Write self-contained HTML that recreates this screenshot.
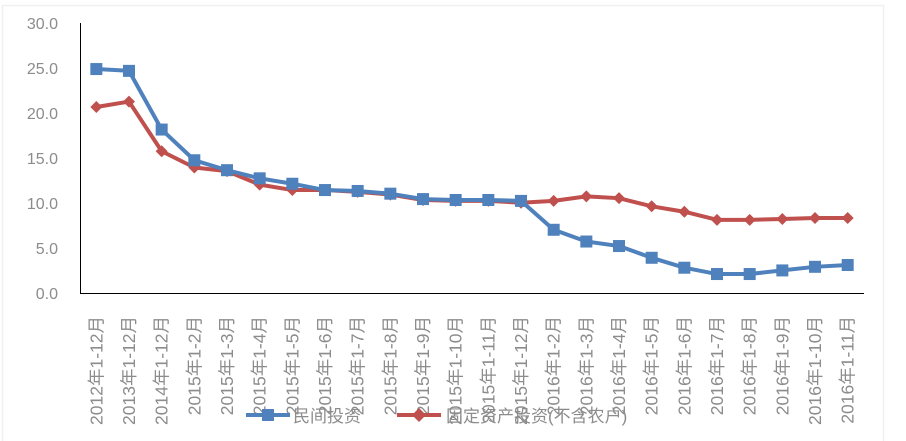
<!DOCTYPE html>
<html><head><meta charset="utf-8"><style>
html,body{margin:0;padding:0;background:#fff;}
svg{display:block;font-family:"Liberation Sans","Noto Sans CJK SC",sans-serif;}
</style></head><body>
<svg width="906" height="441" viewBox="0 0 906 441" xmlns="http://www.w3.org/2000/svg">
<rect x="2.5" y="5.5" width="881" height="440" fill="#fff" stroke="#f0f0f0" stroke-width="1.5"/>
<g font-size="16" fill="#8c8c8c" text-anchor="end">
<text x="58" y="29">30.0</text>
<text x="58" y="74">25.0</text>
<text x="58" y="119">20.0</text>
<text x="58" y="164">15.0</text>
<text x="58" y="209">10.0</text>
<text x="58" y="254">5.0</text>
<text x="58" y="299">0.0</text>
</g>
<line x1="80.5" y1="23" x2="80.5" y2="293" stroke="#000" stroke-width="1"/>
<line x1="80" y1="293.5" x2="864" y2="293.5" stroke="#000" stroke-width="1"/>
<g id="labels" font-size="17.5" fill="#8c8c8c" text-anchor="end"></g>
<polyline id="red" fill="none" stroke="#c0504d" stroke-width="4" stroke-linejoin="round"/>
<polyline id="blue" fill="none" stroke="#4f81bd" stroke-width="4" stroke-linejoin="round"/>
<g id="rm" fill="#c0504d"></g>
<g id="bm" fill="#4f81bd"></g>
<line x1="246" y1="415" x2="290" y2="415" stroke="#4f81bd" stroke-width="4"/>
<rect x="262" y="409" width="12" height="12" fill="#4f81bd"/>
<text x="293" y="422" font-size="17" fill="#8c8c8c">民间投资</text>
<line x1="397" y1="415" x2="441" y2="415" stroke="#c0504d" stroke-width="4"/>
<path d="M419 408 L426 415 L419 422 L412 415Z" fill="#c0504d"/>
<text x="446" y="422" font-size="17" fill="#8c8c8c">固定资产投资(不含农户)</text>
</svg>
<script>
var cats=["2012年1-12月","2013年1-12月","2014年1-12月","2015年1-2月","2015年1-3月","2015年1-4月","2015年1-5月","2015年1-6月","2015年1-7月","2015年1-8月","2015年1-9月","2015年1-10月","2015年1-11月","2015年1-12月","2016年1-2月","2016年1-3月","2016年1-4月","2016年1-5月","2016年1-6月","2016年1-7月","2016年1-8月","2016年1-9月","2016年1-10月","2016年1-11月"];
var b=[24.8,24.6,18.1,14.7,13.6,12.7,12.1,11.4,11.3,11.0,10.4,10.3,10.3,10.2,7.0,5.7,5.2,3.9,2.8,2.1,2.1,2.5,2.9,3.1];
var r=[20.6,21.2,15.7,13.9,13.5,12.0,11.4,11.4,11.2,10.9,10.3,10.2,10.2,10.0,10.2,10.7,10.5,9.6,9.0,8.1,8.1,8.2,8.3,8.3];
var NS="http://www.w3.org/2000/svg";
function X(i){return 80+32.667*(i+0.5);}
function Y(v){return 293-9.03*v;}
var lg=document.getElementById("labels"),bm=document.getElementById("bm"),rm=document.getElementById("rm");
var bp=[],rp=[];
for(var i=0;i<24;i++){
 var x=X(i);
 var t=document.createElementNS(NS,"text");
 t.setAttribute("transform","translate("+(x+6)+",316) rotate(-90)");
 t.textContent=cats[i];lg.appendChild(t);
 bp.push(x+","+Y(b[i]));rp.push(x+","+Y(r[i]));
 var s=document.createElementNS(NS,"rect");
 s.setAttribute("x",x-6);s.setAttribute("y",Y(b[i])-6);s.setAttribute("width",12);s.setAttribute("height",12);bm.appendChild(s);
 var d=document.createElementNS(NS,"path");var y=Y(r[i]);
 d.setAttribute("d","M"+x+" "+(y-6)+" L"+(x+6)+" "+y+" L"+x+" "+(y+6)+" L"+(x-6)+" "+y+"Z");rm.appendChild(d);
}
document.getElementById("blue").setAttribute("points",bp.join(" "));
document.getElementById("red").setAttribute("points",rp.join(" "));
</script>
</body></html>
